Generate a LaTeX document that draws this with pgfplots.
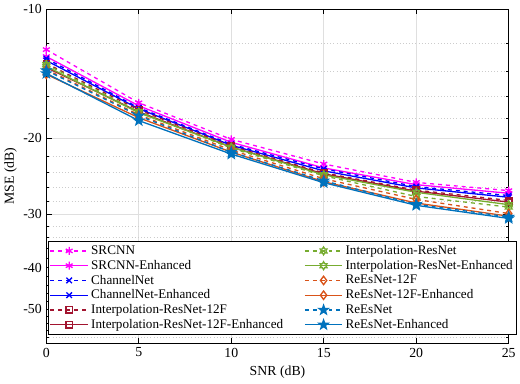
\documentclass[border=0pt]{standalone}
\usepackage{fontspec}
\setmainfont{Liberation Serif}
\usepackage{pgfplots}
\pgfplotsset{compat=1.18}
\usepackage{pgfplotstable}

\definecolor{cMag}{RGB}{255,0,255}
\definecolor{cBlue}{RGB}{0,0,255}
\definecolor{cRed}{RGB}{162,20,47}
\definecolor{cGreen}{RGB}{119,172,48}
\definecolor{cOrange}{RGB}{217,83,25}
\definecolor{cSky}{RGB}{0,114,189}

% five- and six-pointed marks like the ones in MATLAB
\pgfdeclareplotmark{pentagram}{%
  \pgfpathmoveto{\pgfpointpolar{90}{\pgfplotmarksize}}%
  \pgfpathlineto{\pgfpointpolar{126}{0.4\pgfplotmarksize}}%
  \pgfpathlineto{\pgfpointpolar{162}{\pgfplotmarksize}}%
  \pgfpathlineto{\pgfpointpolar{198}{0.4\pgfplotmarksize}}%
  \pgfpathlineto{\pgfpointpolar{234}{\pgfplotmarksize}}%
  \pgfpathlineto{\pgfpointpolar{270}{0.4\pgfplotmarksize}}%
  \pgfpathlineto{\pgfpointpolar{306}{\pgfplotmarksize}}%
  \pgfpathlineto{\pgfpointpolar{342}{0.4\pgfplotmarksize}}%
  \pgfpathlineto{\pgfpointpolar{18}{\pgfplotmarksize}}%
  \pgfpathlineto{\pgfpointpolar{54}{0.4\pgfplotmarksize}}%
  \pgfpathclose\pgfusepathqfillstroke}
\pgfdeclareplotmark{hexagram}{%
  \pgfpathmoveto{\pgfpointpolar{90}{\pgfplotmarksize}}%
  \pgfpathlineto{\pgfpointpolar{120}{0.58\pgfplotmarksize}}%
  \pgfpathlineto{\pgfpointpolar{150}{\pgfplotmarksize}}%
  \pgfpathlineto{\pgfpointpolar{180}{0.58\pgfplotmarksize}}%
  \pgfpathlineto{\pgfpointpolar{210}{\pgfplotmarksize}}%
  \pgfpathlineto{\pgfpointpolar{240}{0.58\pgfplotmarksize}}%
  \pgfpathlineto{\pgfpointpolar{270}{\pgfplotmarksize}}%
  \pgfpathlineto{\pgfpointpolar{300}{0.58\pgfplotmarksize}}%
  \pgfpathlineto{\pgfpointpolar{330}{\pgfplotmarksize}}%
  \pgfpathlineto{\pgfpointpolar{0}{0.58\pgfplotmarksize}}%
  \pgfpathlineto{\pgfpointpolar{30}{\pgfplotmarksize}}%
  \pgfpathlineto{\pgfpointpolar{60}{0.58\pgfplotmarksize}}%
  \pgfpathclose\pgfusepathqstroke}

% MSE in dB
\pgfplotstableread{
snr SR SRe CN CNe IR12 IR12e IR IRe RE12 RE12e RE REe
0  -12.43 -12.90 -13.04 -13.18 -13.39 -13.68 -13.46 -13.60 -13.82 -14.19 -13.90 -14.12
5  -16.53 -16.80 -16.98 -17.07 -17.17 -17.35 -17.35 -17.44 -17.63 -17.91 -17.72 -18.19
10 -20.11 -20.43 -20.65 -20.76 -20.86 -20.97 -21.08 -20.97 -21.30 -21.53 -21.53 -21.76
15 -22.95 -23.44 -23.56 -23.81 -24.07 -24.19 -24.45 -24.32 -24.84 -25.24 -25.11 -25.37
20 -25.33 -25.64 -25.91 -26.09 -26.40 -26.55 -27.32 -26.71 -27.75 -28.29 -28.49 -28.64
25 -26.47 -26.85 -27.18 -27.43 -27.90 -28.15 -28.91 -28.54 -29.93 -30.36 -30.47 -30.73
}\msedata

\begin{document}
\begin{tikzpicture}
\begin{axis}[
    scale only axis,
    width=351.75pt, height=254.25pt,
    xmin=0, xmax=25, xtick={0,5,10,15,20,25},
    ymode=log, y dir=reverse,
    ymin=10, ymax=60,
    ytick={10,20,30,40,50},
    yticklabels={-10,-20,-30,-40,-50},
    minor ytick={12,14,16,18,22,24,26,28,32,34,36,38,42,44,46,48,52,54,56,58},
    log ticks with fixed point,
    /pgf/number format/assume math mode=true,
    tick align=inside,
    major tick length=4pt, minor tick length=2pt,
    tick style={black, line width=0.5pt},
    axis line style={black, line width=0.6pt},
    grid=both,
    major grid style={gray!25, line width=0.5pt},
    minor grid style={gray!40, dotted, line width=0.5pt},
    xlabel={SNR (dB)}, ylabel={MSE (dB)},
    ylabel style={yshift=-2pt},
    tick label style={font=\fontsize{10.5}{12}\selectfont},
    label style={font=\fontsize{10.5}{12}\selectfont},
    every axis plot/.append style={line width=1pt, mark size=3pt},
    legend columns=6,
    transpose legend,
    legend cell align=left,
    legend style={at={(0.004,0.026)}, anchor=south west, draw=black,
      line width=0.5pt, font=\fontsize{10}{12}\selectfont,
      inner sep=1pt, row sep=-1.2pt,
      /tikz/every even column/.append style={column sep=0pt}},
    legend image code/.code={\draw[mark repeat=2, mark phase=2]
      plot coordinates {(0cm,0cm) (0.5cm,0cm) (1cm,0cm)};},
]
\addplot[cMag, dashed, mark=asterisk, mark options={solid}] table[x=snr, y expr=-\thisrow{SR}] {\msedata};
\addlegendentry{SRCNN}
\addplot[cMag, mark=asterisk] table[x=snr, y expr=-\thisrow{SRe}] {\msedata};
\addlegendentry{SRCNN-Enhanced}
\addplot[cBlue, dashed, mark=x, mark options={solid}] table[x=snr, y expr=-\thisrow{CN}] {\msedata};
\addlegendentry{ChannelNet}
\addplot[cBlue, mark=x] table[x=snr, y expr=-\thisrow{CNe}] {\msedata};
\addlegendentry{ChannelNet-Enhanced}
\addplot[cRed, dashed, mark=square, mark size=2.4pt, mark options={solid}] table[x=snr, y expr=-\thisrow{IR12}] {\msedata};
\addlegendentry{Interpolation-ResNet-12F}
\addplot[cRed, mark=square, mark size=2.4pt] table[x=snr, y expr=-\thisrow{IR12e}] {\msedata};
\addlegendentry{Interpolation-ResNet-12F-Enhanced\rule{14pt}{0pt}}
\addplot[cGreen, dashed, mark=hexagram, mark options={solid}] table[x=snr, y expr=-\thisrow{IR}] {\msedata};
\addlegendentry{Interpolation-ResNet}
\addplot[cGreen, mark=hexagram] table[x=snr, y expr=-\thisrow{IRe}] {\msedata};
\addlegendentry{Interpolation-ResNet-Enhanced}
\addplot[cOrange, dashed, mark=diamond, mark size=3.2pt, mark options={solid}] table[x=snr, y expr=-\thisrow{RE12}] {\msedata};
\addlegendentry{ReEsNet-12F}
\addplot[cOrange, mark=diamond, mark size=3.2pt] table[x=snr, y expr=-\thisrow{RE12e}] {\msedata};
\addlegendentry{ReEsNet-12F-Enhanced}
\addplot[cSky, dashed, mark=pentagram, mark size=3.6pt, mark options={solid}] table[x=snr, y expr=-\thisrow{RE}] {\msedata};
\addlegendentry{ReEsNet}
\addplot[cSky, mark=pentagram, mark size=3.6pt] table[x=snr, y expr=-\thisrow{REe}] {\msedata};
\addlegendentry{ReEsNet-Enhanced}
\end{axis}
\end{tikzpicture}
\end{document}
